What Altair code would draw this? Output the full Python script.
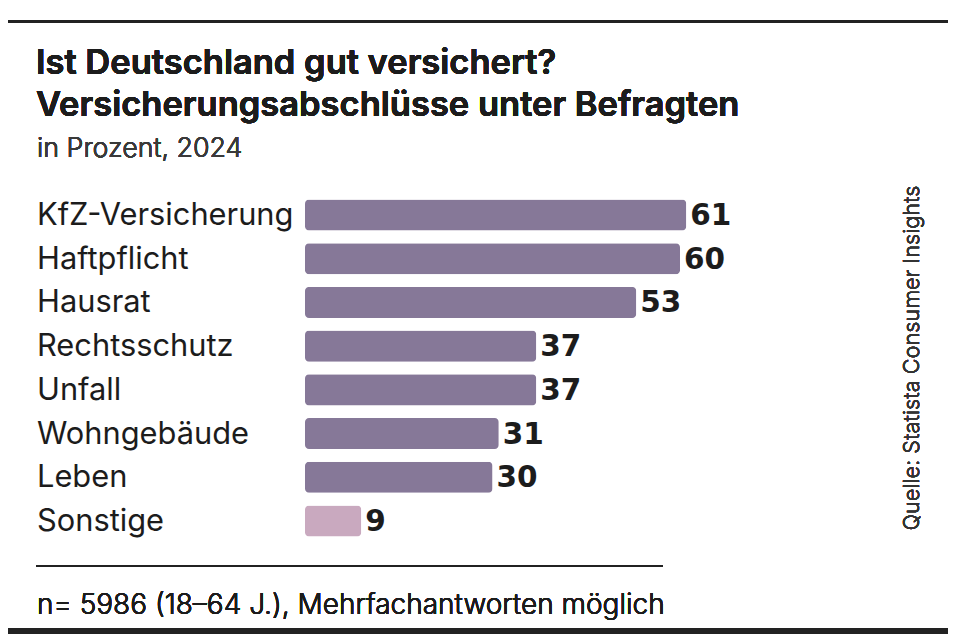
import altair as alt
import pandas as pd

kategorien = ["KfZ-Versicherung", "Haftpflicht", "Hausrat", "Rechtsschutz",
              "Unfall", "Wohngebäude", "Leben", "Sonstige"]
werte = [61, 60, 53, 37, 37, 31, 30, 9]
gruppe = ["Versicherung"] * 7 + ["Sonstige"]

titel1 = "Ist Deutschland gut versichert?"
titel2 = "Versicherungsabschlüsse unter Befragten"
untertitel = "in Prozent, 2024"
quelle = "Quelle: Statista Consumer Insights"
fussnote = "n= 5986 (18–64 J.), Mehrfachantworten möglich"

df = pd.DataFrame({"kategorie": kategorien, "wert": werte, "gruppe": gruppe})

W, H = 940, 626
FONT = "Inter"
DARK = "#1c1c1c"

step = 43.71
y0 = 215 - step / 2 - 8
y1 = 521 + step / 2 - 8

xs = alt.Scale(domain=[0, 100], range=[297, 297 + 625])
ys = alt.Scale(domain=kategorien, range=[y0, y1], paddingInner=0.29, paddingOuter=0.145)

base = alt.Chart(df)

bars = base.mark_bar(cornerRadius=4).encode(
    x=alt.X("wert:Q", scale=xs, axis=None),
    y=alt.Y("kategorie:N", scale=ys, axis=None),
    color=alt.Color("gruppe:N", scale=alt.Scale(domain=["Versicherung", "Sonstige"],
                                                range=["#867898", "#c9a9bf"]), legend=None),
)

values = base.mark_text(align="left", baseline="middle", dx=4, dy=1, font="DejaVu Sans",
                        fontSize=29.5, fontWeight="bold", color=DARK).encode(
    x=alt.X("wert:Q", scale=xs, axis=None),
    y=alt.Y("kategorie:N", scale=ys, axis=None),
    text="wert:Q",
)

labels = base.mark_text(align="left", baseline="middle", dy=1, font=FONT,
                        fontSize=30.8, fontWeight=400, color=DARK).encode(
    x=alt.value(29),
    y=alt.Y("kategorie:N", scale=ys, axis=None),
    text="kategorie:N",
)

def txt(t, x, y, size, weight=None, color=DARK, angle=0, align="left", baseline="alphabetic"):
    kw = dict(text=t, align=align, baseline=baseline, font=FONT, fontSize=size,
              color=color, angle=angle)
    if weight is not None:
        kw["fontWeight"] = weight
    return alt.Chart(df).mark_text(**kw).encode(x=alt.value(x), y=alt.value(y))

t1 = txt(titel1, 28, 66, 34.5, 600)
t2 = txt(titel2, 28, 108, 34.5, 600)
st = txt(untertitel, 29, 149, 26.8, 300, "#3a3a3a")
src = txt(quelle, 904, 350, 21.7, 300, "#333333", angle=270, align="center", baseline="middle")
foot = txt(fussnote, 29, 606, 28, 300, DARK)

top_rule = alt.Chart(df).mark_rule(color="#222222", strokeWidth=3).encode(
    x=alt.value(0), x2=alt.value(W), y=alt.value(13.5))
foot_rule = alt.Chart(df).mark_rule(color="#222222", strokeWidth=1.5).encode(
    x=alt.value(28), x2=alt.value(655), y=alt.value(558))
bottom_rule = alt.Chart(df).mark_rule(color="#222222", strokeWidth=6).encode(
    x=alt.value(0), x2=alt.value(W), y=alt.value(623))

chart = alt.layer(top_rule, t1, t2, st, bars, values, labels, src, foot_rule, foot, bottom_rule).properties(
    width=W, height=H, padding=0, autosize=alt.AutoSizeParams(type="none"),
    background="white",
).configure_view(stroke=None)

chart.save("out.html", embed_options={"renderer": "svg", "actions": False})
